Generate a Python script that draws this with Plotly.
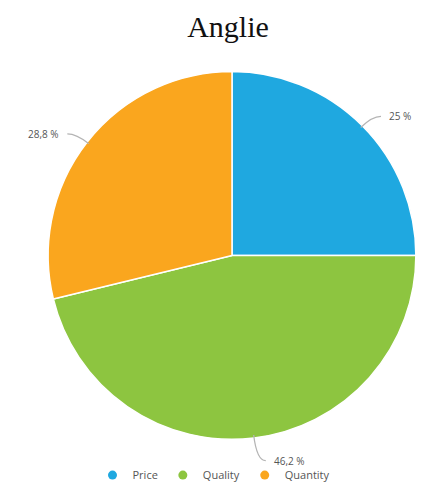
import math
import plotly.graph_objects as go

# Chart data
title = "Anglie"
categories = ["Price", "Quality", "Quantity"]
values = [25.0, 46.2, 28.8]
value_labels = ["25 %", "46,2 %", "28,8 %"]
colors = ["#1FA8E0", "#8DC540", "#FAA61E"]

# Canvas and pie geometry (pixels)
W, H = 425, 490
CX, CY, R = 232, 257, 185


def px_to_paper(x, y):
    return x / W, 1 - y / H


fig = go.Figure()

x0, _ = px_to_paper(CX - R, 0)
x1, _ = px_to_paper(CX + R, 0)
_, y1 = px_to_paper(0, CY - R)
_, y0 = px_to_paper(0, CY + R)

fig.add_trace(go.Pie(
    labels=categories,
    values=values,
    sort=False,
    direction="clockwise",
    rotation=0,
    marker=dict(colors=colors, line=dict(color="white", width=1.5)),
    textinfo="none",
    hoverinfo="label+percent",
    showlegend=False,
    domain=dict(x=[x0, x1], y=[y0, y1]),
))

# Legend entries with round markers
for name, col in zip(categories, colors):
    fig.add_trace(go.Scatter(
        x=[None], y=[None], mode="markers", name=name,
        marker=dict(symbol="circle", size=9, color=col),
    ))

# Outside labels with curved leader lines, placed from each slice's mid-angle
R_EDGE = 182
total = sum(values)
cum = 0.0
shapes, annotations = [], []
for v, lab in zip(values, value_labels):
    mid = (cum + v / 2) / total * 2 * math.pi
    cum += v
    sx, sy = math.sin(mid), -math.cos(mid)
    p0 = (CX + R_EDGE * sx, CY + R_EDGE * sy)
    k = 16 if abs(sy) < 0.9 else 26
    p1 = (CX + (R_EDGE + k) * sx, CY + (R_EDGE + k) * sy)
    side = 1 if sx >= 0 else -1
    p2 = (p1[0] + side * 9, p1[1])
    a = px_to_paper(*p0)
    b = px_to_paper(*p1)
    c = px_to_paper(*p2)
    shapes.append(dict(
        type="path", xref="paper", yref="paper",
        path=f"M {a[0]},{a[1]} Q {b[0]},{b[1]} {c[0]},{c[1]}",
        line=dict(color="#b4b4b4", width=1.3),
    ))
    t = px_to_paper(p2[0] + side * 6, p2[1])
    annotations.append(dict(
        x=t[0], y=t[1], xref="paper", yref="paper", text=lab,
        showarrow=False, xanchor="left" if side > 0 else "right",
        yanchor="middle", font=dict(family="Open Sans", size=10, color="#555555"),
    ))

fig.update_layout(
    width=W, height=H,
    margin=dict(l=0, r=0, t=0, b=0),
    paper_bgcolor="white", plot_bgcolor="white",
    title=dict(
        text=title, x=228 / W, xanchor="center", y=1 - 26 / H, yanchor="middle",
        font=dict(family="Liberation Serif, Times New Roman, serif", size=30, color="#111111"),
    ),
    xaxis=dict(visible=False), yaxis=dict(visible=False),
    legend=dict(
        orientation="h", x=214 / W, xanchor="center", y=1 - 478 / H, yanchor="middle",
        font=dict(family="Open Sans", size=11, color="#555555"),
        itemwidth=30, tracegroupgap=0, bgcolor="rgba(0,0,0,0)",
    ),
    shapes=shapes,
    annotations=annotations,
)

fig.write_html("out.html")
